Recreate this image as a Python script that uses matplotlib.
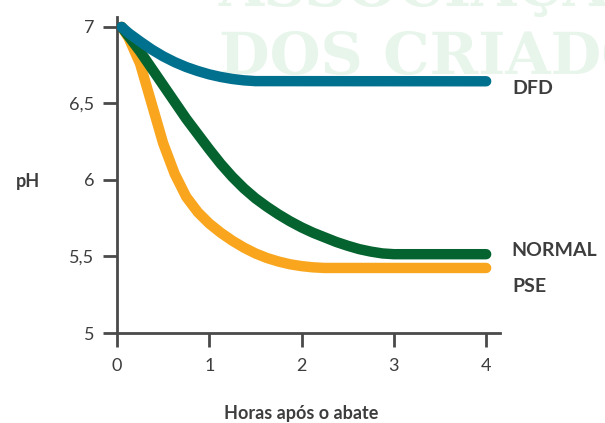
import matplotlib
matplotlib.use("Agg")
import matplotlib.pyplot as plt

# Data
hours_dfd = [0.05, 0.125, 0.25, 0.375, 0.5, 0.625, 0.75, 0.875, 1.0, 1.125, 1.25, 1.375, 1.5, 4.0]
ph_dfd = [7.0, 6.96, 6.905, 6.853, 6.808, 6.77, 6.738, 6.712, 6.69, 6.673, 6.66, 6.651, 6.646, 6.645]

hours_normal = [0.05, 0.125, 0.25, 0.375, 0.5, 0.625, 0.75, 0.875, 1.0, 1.125, 1.25, 1.375,
                1.5, 1.625, 1.75, 1.875, 2.0, 2.125, 2.25, 2.375, 2.5, 2.625, 2.75, 2.875, 3.0, 4.0]
ph_normal = [7.0, 6.94, 6.84, 6.73, 6.62, 6.51, 6.40, 6.30, 6.20, 6.105, 6.02, 5.945,
             5.88, 5.825, 5.775, 5.73, 5.69, 5.655, 5.625, 5.595, 5.57, 5.548, 5.532, 5.52, 5.515, 5.515]

hours_pse = [0.05, 0.125, 0.25, 0.375, 0.5, 0.625, 0.75, 0.875, 1.0, 1.125, 1.25, 1.375,
             1.5, 1.625, 1.75, 1.875, 2.0, 2.125, 2.25, 4.0]
ph_pse = [7.0, 6.93, 6.76, 6.50, 6.24, 6.04, 5.89, 5.79, 5.715, 5.655, 5.603, 5.558,
          5.52, 5.49, 5.467, 5.449, 5.437, 5.429, 5.425, 5.425]

series_names = ["DFD", "NORMAL", "PSE"]
xticks = [0, 1, 2, 3, 4]
xtick_labels = ["0", "1", "2", "3", "4"]
yticks = [5, 5.5, 6, 6.5, 7]
ytick_labels = ["5", "5,5", "6", "6,5", "7"]

BLUE = "#00708f"
GREEN = "#05632f"
ORANGE = "#f9a61e"
AXC = "#4a4a4a"
TXT = "#3d3d3d"

plt.rcParams["font.family"] = ["Lato", "DejaVu Sans"]

W, H = 605, 423
fig = plt.figure(figsize=(W/100, H/100), dpi=100)
ax = fig.add_axes([117/W, 1-333/H, (500-117)/W, (333-17)/H])
ax.patch.set_alpha(0)

def px(x, y):
    return x / W, 1 - y / H

# watermark
wm = dict(family="DejaVu Serif", fontweight="bold", fontsize=42, color="#e7f5eb",
          zorder=-5, ha="left", va="baseline")
fig.text(*px(219, 6), "ASSOCIAÇÃO", **wm)
fig.text(*px(219, 74), "DOS CRIADORES", **wm)

lw = 7.5
kw = dict(lw=lw, solid_capstyle="round", solid_joinstyle="round")
ax.plot(hours_dfd, ph_dfd, color=BLUE, zorder=3, **kw)
ax.plot(hours_normal, ph_normal, color=GREEN, zorder=2, **kw)
ax.plot(hours_pse, ph_pse, color=ORANGE, zorder=1, **kw)

ax.set_xlim(0, 4.15)
ax.set_ylim(5, 7.065)
for s in ["top", "right"]:
    ax.spines[s].set_visible(False)
for s in ["left", "bottom"]:
    ax.spines[s].set_color(AXC)
    ax.spines[s].set_linewidth(2)

ax.set_xticks(xticks)
ax.set_xticklabels(xtick_labels)
ax.set_yticks(yticks)
ax.set_yticklabels(ytick_labels)
ax.tick_params(axis="both", length=10, width=2, color=AXC, labelcolor=TXT, labelsize=13)
ax.tick_params(axis="x", pad=8)
ax.tick_params(axis="y", pad=6.5)

lab = dict(fontweight="bold", fontsize=13, color=TXT, va="baseline")
fig.text(*px(28, 186.5), "pH", ha="center", **lab)
fig.text(*px(301, 418.5), "Horas após o abate", ha="center", **lab)

end_lab = dict(fontweight="bold", fontsize=14, color=TXT, ha="left", va="baseline")
fig.text(*px(512, 93.5), series_names[0], **end_lab)
fig.text(*px(511.5, 256), series_names[1], **end_lab)
fig.text(*px(512, 291.5), series_names[2], **end_lab)

fig.savefig("out.png", dpi=100)
